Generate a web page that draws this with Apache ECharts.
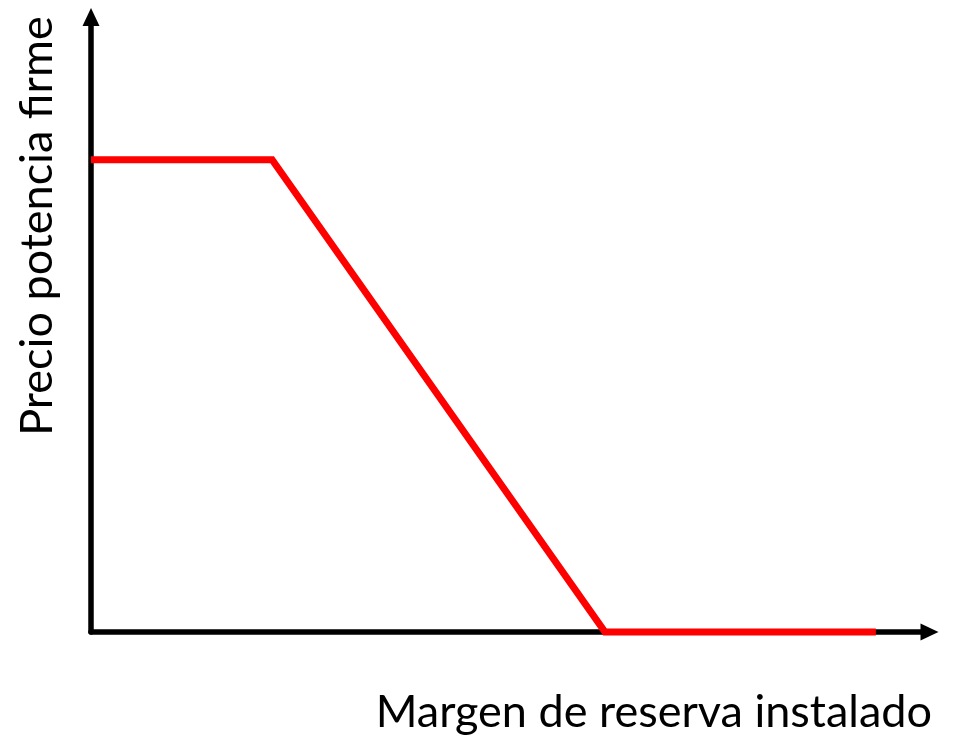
<!DOCTYPE html>
<html>
<head>
<meta charset="utf-8">
<script src="https://cdn.jsdelivr.net/npm/echarts@6/dist/echarts.min.js"></script>
<style>
html,body{margin:0;padding:0;background:#fff;}
#chart{width:955px;height:737px;}
</style>
</head>
<body>
<div id="chart"></div>
<script>
// Data (arbitrary units, 0-100 scale on both axes)
var margenReserva = [0, 21.6, 61.3, 93.6];
var precioPotencia = [76.8, 76.8, 0, 0];
var xAxisTitle = 'Margen de reserva instalado';
var yAxisTitle = 'Precio potencia firme';

var points = margenReserva.map(function (x, i) { return [x, precioPotencia[i]]; });

var chart = echarts.init(document.getElementById('chart'), null, { renderer: 'canvas' });
var font = 'Lato';
chart.setOption({
  animation: false,
  backgroundColor: '#ffffff',
  grid: { left: 91, right: 25.5, top: 17, bottom: 105 },
  xAxis: {
    type: 'value', min: 0, max: 100,
    axisLine: { show: true, symbol: ['none', 'triangle'], symbolSize: [17, 18], lineStyle: { color: '#000', width: 5.5 } },
    axisTick: { show: false }, axisLabel: { show: false }, splitLine: { show: false }
  },
  yAxis: {
    type: 'value', min: 0, max: 100,
    axisLine: { show: true, symbol: ['none', 'triangle'], symbolSize: [17, 18], lineStyle: { color: '#000', width: 5.5 } },
    axisTick: { show: false }, axisLabel: { show: false }, splitLine: { show: false }
  },
  series: [{
    type: 'line',
    data: points,
    symbol: 'none',
    clip: false,
    lineStyle: { color: '#ff0000', width: 7, join: 'miter' },
    z: 5
  }],
  graphic: [
    { type: 'text', x: 932, y: 712, style: { text: xAxisTitle, font: '45px ' + font, fill: '#000', textAlign: 'right', textVerticalAlign: 'middle' } },
    { type: 'text', x: 37, y: 226, rotation: Math.PI / 2, style: { text: yAxisTitle, font: '45px ' + font, fill: '#000', textAlign: 'center', textVerticalAlign: 'middle' } }
  ]
});
</script>
</body>
</html>
